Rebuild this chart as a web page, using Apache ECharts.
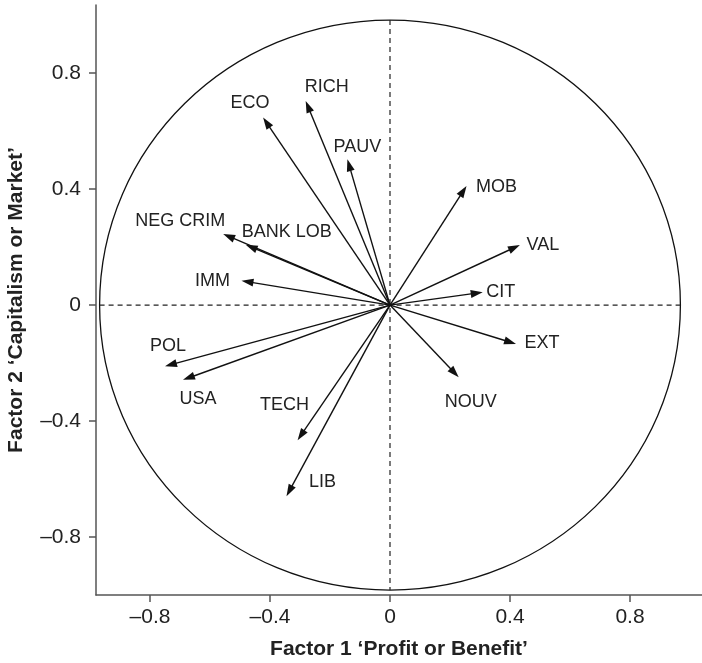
<!DOCTYPE html>
<html>
<head>
<meta charset="utf-8">
<script src="https://cdn.jsdelivr.net/npm/echarts@6/dist/echarts.min.js"></script>
<style>
html,body{margin:0;padding:0;background:#fff;}
#chart{width:702px;height:663px;}
</style>
</head>
<body>
<div id="chart"></div>
<script>
// Variable names (arrow labels)
var names = ['ECO','RICH','PAUV','NEG CRIM','BANK LOB','IMM','MOB','VAL','CIT','EXT','NOUV','POL','USA','TECH','LIB'];
// Factor 1 loadings (x)
var factor1 = [-0.423,-0.281,-0.142,-0.556,-0.481,-0.495,0.255,0.433,0.309,0.420,0.229,-0.750,-0.690,-0.308,-0.345];
// Factor 2 loadings (y)
var factor2 = [0.647,0.704,0.503,0.245,0.208,0.084,0.411,0.207,0.044,-0.134,-0.249,-0.211,-0.258,-0.466,-0.659];
// Tick values
var xTicks = [-0.8,-0.4,0,0.4,0.8];
var yTicks = [-0.8,-0.4,0,0.4,0.8];

// Label offsets from arrow tip (pixels) - styling only
var labelOffsets = [[-13,-14],[21,-14],[10,-12],[-43,-13],[41,-13],[-29,0],[30,1],[23,0],[18,0],[26,-1],[12,25],[3,-20],[15,19],[-13,-35],[36,-14]];

var FONT = '"Liberation Sans", Arial, Helvetica, sans-serif';
var chart = echarts.init(document.getElementById('chart'), null, {renderer:'canvas'});

function fmt(v){
  if (v === 0) return '0';
  var s = Math.abs(v).toFixed(1);
  return (v < 0 ? '\u2013' : '') + s;
}

var data = names.map(function(n,i){ return [factor1[i], factor2[i]]; });

chart.setOption({
  animation:false,
  backgroundColor:'#fff',
  grid:{left:96, right:0, top:5, bottom:68, containLabel:false, outerBoundsMode:'none'},
  xAxis:{
    type:'value', min:-0.98, max:1.04,
    splitLine:{show:false},
    axisLine:{show:true, onZero:false, lineStyle:{color:'#555', width:1.5}},
    axisTick:{show:true, inside:false, length:7, customValues:xTicks, lineStyle:{color:'#555', width:1.5}},
    axisLabel:{customValues:xTicks, formatter:fmt, fontSize:21, color:'#222', fontFamily:FONT, margin:12},
    name:'Factor 1 \u2018Profit or Benefit\u2019',
    nameLocation:'middle', nameGap:44,
    nameTextStyle:{fontSize:21, fontWeight:'bold', color:'#222', fontFamily:FONT}
  },
  yAxis:{
    type:'value', min:-1.0, max:1.035,
    splitLine:{show:false},
    axisLine:{show:true, onZero:false, lineStyle:{color:'#555', width:1.5}},
    axisTick:{show:true, inside:false, length:7, customValues:yTicks, lineStyle:{color:'#555', width:1.5}},
    axisLabel:{customValues:yTicks, formatter:fmt, fontSize:21, color:'#222', fontFamily:FONT, margin:15},
    name:'Factor 2 \u2018Capitalism or Market\u2019',
    nameLocation:'middle', nameGap:69, nameRotate:90,
    nameTextStyle:{fontSize:21, fontWeight:'bold', color:'#222', fontFamily:FONT}
  },
  series:[{
    type:'custom',
    coordinateSystem:'cartesian2d',
    data:data,
    z:5,
    renderItem:function(params, api){
      var o = api.coord([0,0]);
      var p = api.coord([api.value(0), api.value(1)]);
      var dx = p[0]-o[0], dy = p[1]-o[1];
      var L = Math.sqrt(dx*dx+dy*dy);
      var ux = dx/L, uy = dy/L;
      var hl = 12, hw = 4;
      var bx = p[0]-ux*hl, by = p[1]-uy*hl;
      var idx = params.dataIndex;
      var off = labelOffsets[idx];
      return {type:'group', children:[
        {type:'line', shape:{x1:o[0], y1:o[1], x2:bx+ux*2, y2:by+uy*2}, style:{stroke:'#111', lineWidth:1.4}},
        {type:'polygon', shape:{points:[[p[0],p[1]],[bx-uy*hw, by+ux*hw],[bx+uy*hw, by-ux*hw]]}, style:{fill:'#111'}},
        {type:'text', x:p[0]+off[0], y:p[1]+off[1], style:{text:names[idx], fill:'#222', font:'18px '+FONT, align:'center', verticalAlign:'middle'}}
      ]};
    }
  }]
});

// Reference circle and dashed diameters (drawn in data units via the axes)
var CIRCLE_RX = 0.968, CIRCLE_RY = 0.983;
var c = chart.convertToPixel({gridIndex:0}, [0,0]);
var px = chart.convertToPixel({gridIndex:0}, [CIRCLE_RX, 0]);
var py = chart.convertToPixel({gridIndex:0}, [0, CIRCLE_RY]);
var rx = Math.abs(px[0]-c[0]), ry = Math.abs(c[1]-py[1]);
chart.setOption({
  graphic:[
    {type:'ellipse', shape:{cx:c[0], cy:c[1], rx:rx, ry:ry}, style:{fill:null, stroke:'#111', lineWidth:1.3}, z:1, silent:true},
    {type:'line', shape:{x1:c[0]-rx, y1:c[1], x2:c[0]+rx, y2:c[1]}, style:{stroke:'#222', lineWidth:1.2, lineDash:[5,4]}, z:1, silent:true},
    {type:'line', shape:{x1:c[0], y1:c[1]-ry, x2:c[0], y2:c[1]+ry}, style:{stroke:'#222', lineWidth:1.2, lineDash:[5,4]}, z:1, silent:true}
  ]
});
</script>
</body>
</html>
